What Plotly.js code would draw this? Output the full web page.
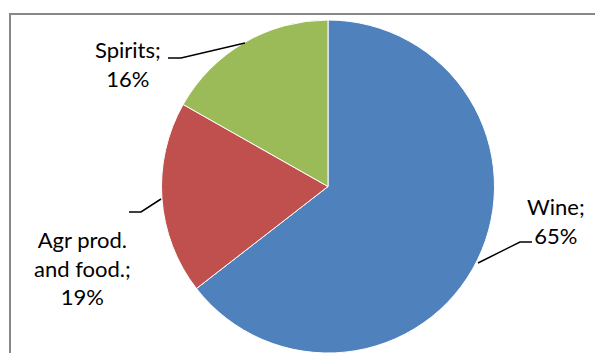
<!DOCTYPE html>
<html>
<head>
<meta charset="utf-8">
<script src="https://cdn.plot.ly/plotly-3.0.1.min.js"></script>
<style>html,body{margin:0;padding:0;background:#fff;}#chart{width:595px;height:353px;}</style>
</head>
<body>
<div id="chart"></div>
<script>
var categories = ['Wine', 'Agr prod. and food.', 'Spirits'];
var shares = [64.5, 18.7, 16.8];
var shownPercent = [65, 19, 16];
var labelLines = ['Wine;', 'Agr prod.<br>and food.;', 'Spirits;'];
var colors = ['#4F81BD', '#C0504D', '#9BBB59'];

var W = 595, H = 353;
function px(x){ return x / W; }
function py(y){ return 1 - y / H; }

// label placement (pixels) and leader lines
var labelPos = [[556, 221], [82, 268], [128, 64]];
var leaders = [
  [[478, 263], [520, 242], [532, 242]],
  [[161, 199], [141, 212], [129, 212]],
  [[245, 43], [181, 58], [168, 58]]
];

var trace = {
  type: 'pie',
  labels: categories,
  values: shares,
  sort: false,
  direction: 'clockwise',
  rotation: 0,
  textinfo: 'none',
  hoverinfo: 'label+percent',
  marker: {colors: colors, line: {color: '#ffffff', width: 1}},
  domain: {x: [px(161), px(495)], y: [0, py(20)]},
  showlegend: false
};

var annotations = categories.map(function(c, i){
  return {
    xref: 'paper', yref: 'paper',
    x: px(labelPos[i][0]), y: py(labelPos[i][1]),
    xanchor: 'center', yanchor: 'middle', align: 'center',
    text: labelLines[i] + '<br>' + shownPercent[i] + '%',
    showarrow: false,
    font: {family: 'Lato, "Open Sans", sans-serif', size: 22, color: '#000'}
  };
});

var shapes = leaders.map(function(pts){
  var d = pts.map(function(p, j){ return (j ? 'L' : 'M') + px(p[0]) + ',' + py(p[1]); }).join(' ');
  return {type: 'path', xref: 'paper', yref: 'paper', path: d, line: {color: '#000', width: 1.5}};
});
shapes.push({type: 'rect', xref: 'paper', yref: 'paper', x0: px(10), x1: 1.2, y0: -0.2, y1: py(14), line: {color: '#888888', width: 2}, fillcolor: 'rgba(0,0,0,0)', layer: 'below'});

var layout = {
  width: W, height: H,
  margin: {l: 0, r: 0, t: 0, b: 0},
  paper_bgcolor: '#ffffff',
  showlegend: false,
  annotations: annotations,
  shapes: shapes
};

Plotly.newPlot('chart', [trace], layout, {displayModeBar: false, staticPlot: true});
</script>
</body>
</html>
